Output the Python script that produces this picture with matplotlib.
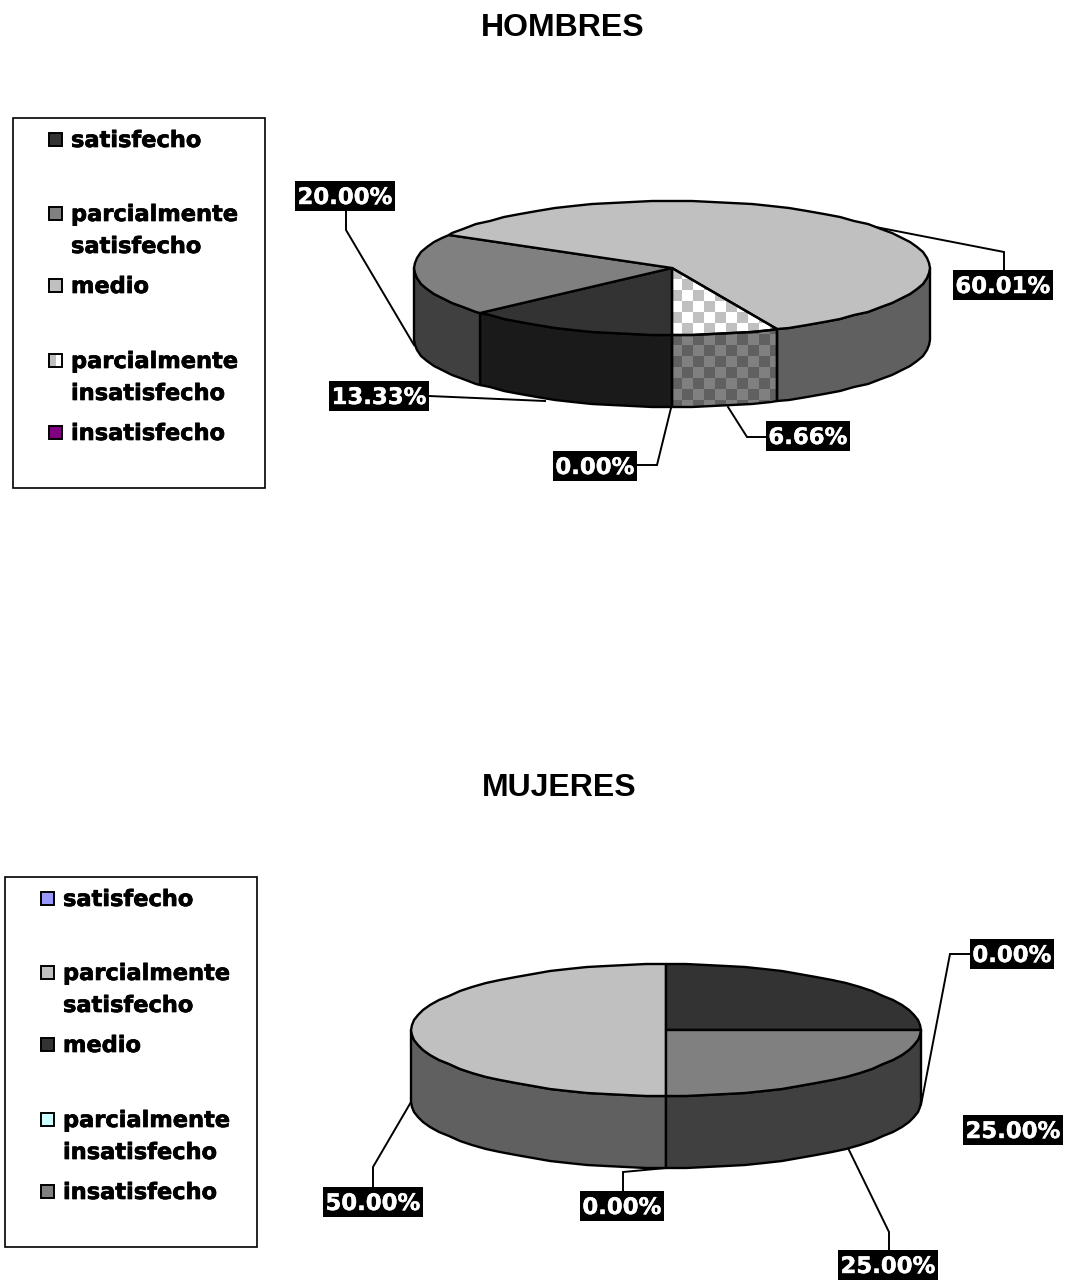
#!/usr/bin/python3
# -*- coding: utf-8 -*-

import numpy as np
import matplotlib
matplotlib.use('Agg')
import matplotlib.pyplot as plt
import matplotlib.patheffects as pe
from matplotlib.colors import to_rgb
from matplotlib.patches import Polygon, Rectangle

W, H = 1066, 1280

categories = ['satisfecho', 'parcialmente\nsatisfecho', 'medio',
              'parcialmente\ninsatisfecho', 'insatisfecho']
hombres_values = [13.33, 20.00, 60.01, 6.66, 0.00]
mujeres_values = [0.00, 50.00, 25.00, 0.00, 25.00]
hombres_labels = ['13.33%', '20.00%', '60.01%', '6.66%', '0.00%']
mujeres_labels = ['0.00%', '50.00%', '25.00%', '0.00%', '25.00%']

hombres_colors = ['#333333', '#808080', '#c0c0c0', 'checker', '#800080']
mujeres_colors = ['#9999ff', '#c0c0c0', '#333333', '#ccffff', '#808080']

# label box centres and leader polylines, in canvas pixels
hombres_boxes = [(379, 396), (345, 196), (1003, 285), (808, 436), (595, 466)]
hombres_leaders = [[(429, 396), (545, 401)],
                   [(346, 211), (346, 230), (414, 345)],
                   [(1004, 270), (1004, 252), (850, 222)],
                   [(766, 437), (747, 437), (728, 407)],
                   [(637, 465), (657, 465), (671, 408)]]
mujeres_boxes = [(622, 1206), (373, 1202), (1013, 1130), (1012, 954), (888, 1265)]
mujeres_leaders = [[(623, 1191), (623, 1172), (666, 1168)],
                   [(373, 1187), (373, 1167), (411, 1102)],
                   None,
                   [(970, 954), (950, 954), (921, 1105)],
                   [(889, 1250), (889, 1232), (848, 1148)]]

LW = 1.7
FONT = 'DejaVu Sans'
THICK = [pe.withStroke(linewidth=0.5, foreground='black')]
THICK_W = [pe.withStroke(linewidth=0.3, foreground='white')]

fig = plt.figure(figsize=(W / 100, H / 100), dpi=100, facecolor='white')
ax = fig.add_axes([0, 0, 1, 1])
ax.set_xlim(0, W)
ax.set_ylim(H, 0)
ax.axis('off')


def checker(ax, poly, c1, c2):
    # 11px checkerboard fixed to the canvas, clipped to the slice
    xs = ((np.arange(W) - 671) // 11)[None, :]
    ys = ((np.arange(H) - 279) // 11)[:, None]
    grid = (xs + ys) % 2
    rgb = np.where(grid[..., None] == 1, to_rgb(c2), to_rgb(c1))
    im = ax.imshow(rgb, extent=(0, W, H, 0), interpolation='nearest',
                   aspect='auto', zorder=3)
    im.set_clip_path(poly)


def shade(color):
    # side wall is the top colour at half brightness
    return tuple(c * 0.5 for c in to_rgb(color))


def arc(cx, cy, rx, ry, t1, t2):
    # polyline with whole-pixel vertices, gives the slightly knobbly rim
    lo, hi = min(t1, t2), max(t1, t2)
    steps = np.arange(np.ceil(lo / 4.5) * 4.5, hi, 4.5)
    t = np.unique(np.concatenate([[lo], steps, [hi]]))
    if t1 > t2:
        t = t[::-1]
    r = np.radians(t)
    return np.round(np.column_stack([cx - rx * np.sin(r), cy + ry * np.cos(r)]))


def draw_slice(ax, pts, col, c1, c2, zorder):
    if col == 'checker':
        clip = Polygon(pts, closed=True, fc='none', ec='none')
        ax.add_patch(clip)
        checker(ax, clip, c1, c2)
        fc = 'none'
    else:
        fc = col
    ax.add_patch(Polygon(pts, closed=True, fc=fc, ec='black', lw=LW,
                         zorder=zorder, joinstyle='round'))


def pie3d(ax, cx, cy, rx, ry, depth, values, colors):
    total = sum(values)
    start = 0.0
    slices = []
    for val, col in zip(values, colors):
        end = start + val / total * 360
        if val > 0:
            slices.append((start, end, col))
        start = end
    for start, end, col in slices:
        for lo, hi in ((0, 90), (270, 360)):
            a, b = max(start, lo), min(end, hi)
            if b > a:
                pts = np.vstack([arc(cx, cy, rx, ry, a, b),
                                 arc(cx, cy + depth, rx, ry, b, a)])
                wall = col if col == 'checker' else shade(col)
                draw_slice(ax, pts, wall, '#808080', '#606060', 4)
    for start, end, col in slices:
        pts = np.vstack([[(cx, cy)], arc(cx, cy, rx, ry, start, end)])
        draw_slice(ax, pts, col, '#ffffff', '#c0c0c0', 5)


def legend(ax, x0, y0, colors):
    ax.add_patch(Rectangle((x0, y0), 252, 370, fc='white', ec='black', lw=1.2))
    rows = [21, 95, 167, 242, 314]
    for off, name, col in zip(rows, categories, colors):
        y = y0 + off
        fc = 'white' if col == 'checker' else col
        ax.add_patch(Rectangle((x0 + 36, y - 6), 13, 13, fc=fc, ec='none'))
        if col == 'checker':
            ax.add_patch(Rectangle((x0 + 36, y - 6), 6.5, 13, fc='#c0c0c0', ec='none'))
        ax.add_patch(Rectangle((x0 + 36, y - 6), 13, 13, fc='none', ec='black', lw=1.4))
        for i, line in enumerate(name.split('\n')):
            ax.text(x0 + 58, y + 8 + 32 * i, line, fontsize=16.2,
                    fontweight='bold', family=FONT, va='baseline',
                    path_effects=THICK)


def labels(ax, texts, boxes, leaders):
    for txt, (x, y), line in zip(texts, boxes, leaders):
        if line is not None:
            ax.plot(*zip(*line), color='black', lw=1.4, zorder=1,
                    solid_joinstyle='miter')
        bw = 16 * len(txt) + 4
        ax.add_patch(Rectangle((x - bw / 2, y - 15), bw, 30, fc='black',
                               ec='none', zorder=7))
        ax.text(x, y - 1, txt, ha='center', va='center_baseline', color='white',
                fontsize=16.4, fontweight='bold', family=FONT, zorder=8,
                path_effects=THICK_W)


ax.text(563, 28, 'HOMBRES', ha='center', va='center', fontsize=23,
        fontweight='bold', family='Liberation Sans')
ax.text(559, 788, 'MUJERES', ha='center', va='center', fontsize=23,
        fontweight='bold', family='Liberation Sans')

pie3d(ax, 672, 268, 258, 67, 72, hombres_values, hombres_colors)
pie3d(ax, 666, 1030, 255, 66, 72, mujeres_values, mujeres_colors)
legend(ax, 13, 118, hombres_colors)
legend(ax, 5, 877, mujeres_colors)
labels(ax, hombres_labels, hombres_boxes, hombres_leaders)
labels(ax, mujeres_labels, mujeres_boxes, mujeres_leaders)

ax.set_xlim(0, W)
ax.set_ylim(H, 0)
fig.savefig('out.png', dpi=100)
